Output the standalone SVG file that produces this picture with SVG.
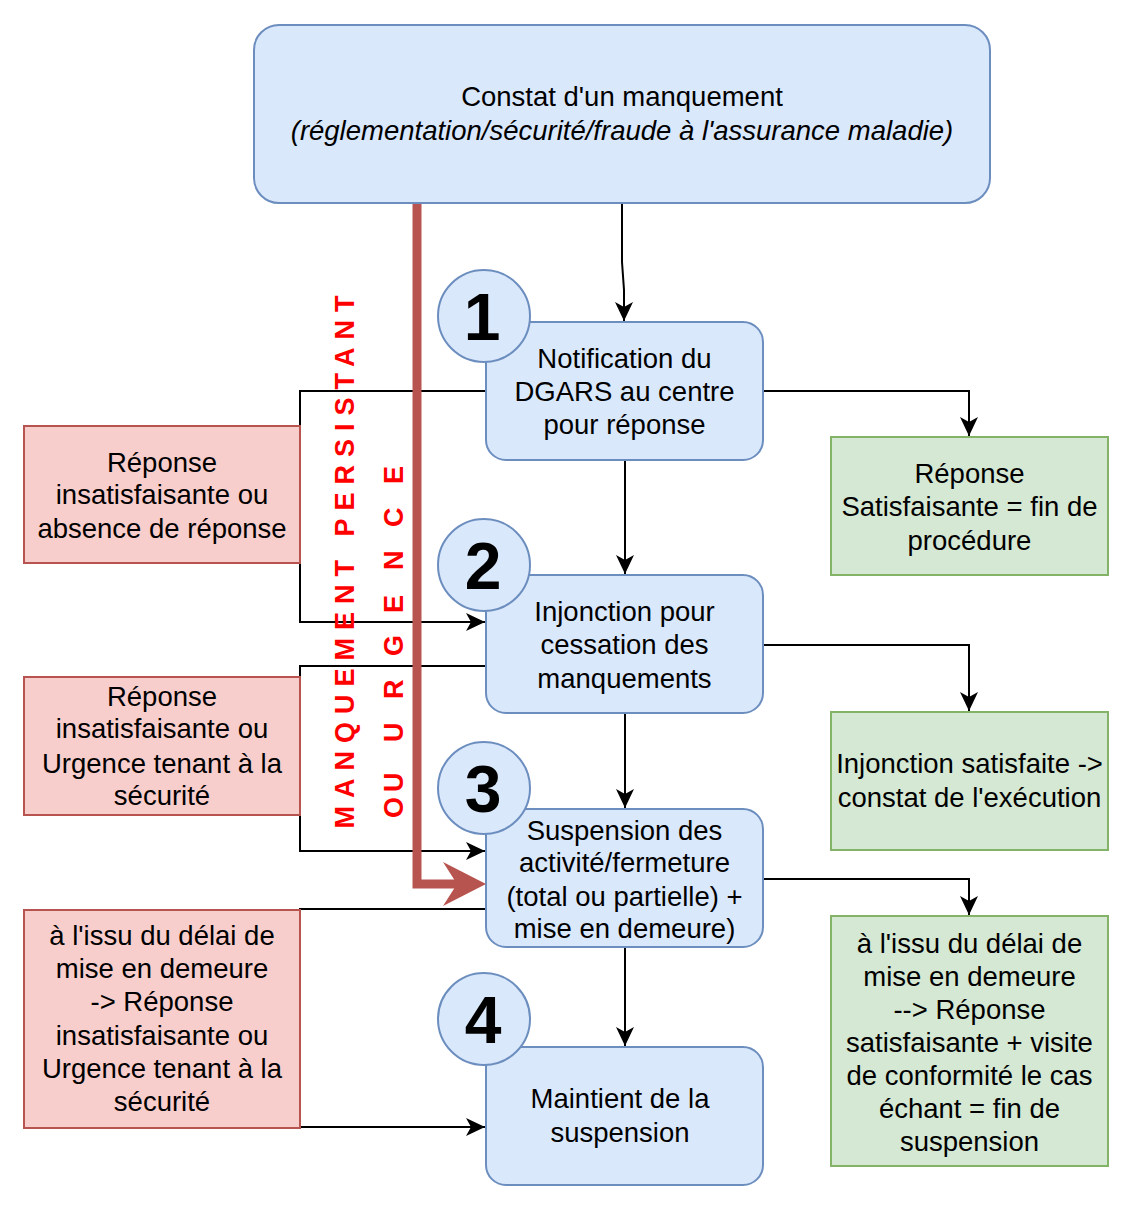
<svg xmlns="http://www.w3.org/2000/svg" width="1134" height="1209" viewBox="0 0 1134 1209">
<defs>
<style>
text{font-family:"Liberation Sans",Arial,sans-serif;font-size:27.5px;fill:#000;text-anchor:middle}
.blue{fill:#dae8fc;stroke:#6c8ebf;stroke-width:2}
.pink{fill:#f8cecc;stroke:#b85450;stroke-width:2}
.green{fill:#d5e8d4;stroke:#82b366;stroke-width:2}
.num{font-size:66px;font-weight:bold}
.conn path{fill:none;stroke:#000;stroke-width:2;marker-end:url(#arr)}
.vt{font-size:27px;font-weight:bold;fill:#ff0000;text-anchor:start}
</style>
<marker id="arr" markerUnits="userSpaceOnUse" markerWidth="22" markerHeight="20" refX="20" refY="10" orient="auto" viewBox="0 0 22 20">
<path d="M1,1 L20,10 L1,19 L6,10 Z" fill="#000" stroke="none"/>
</marker>
</defs>
<rect width="1134" height="1209" fill="#fff"/>

<g id="connectors" class="conn">
<path d="M622,204 V262 L624,290 V321"/>
<path d="M486,391 H300 V622 H485"/>
<path d="M763,391 H969 V436"/>
<path d="M625,460 V574"/>
<path d="M486,666 H300 V851 H485"/>
<path d="M763,645 H969 V711"/>
<path d="M625,713 V808"/>
<path d="M486,909 H300 V1127 H485"/>
<path d="M763,879 H969 V915"/>
<path d="M625,947 V1046"/>
</g>

<g id="constat">
<rect class="blue" x="254" y="25" width="736" height="178" rx="25"/>
<text x="622" y="106">Constat d'un manquement</text>
<text x="622" y="140" font-style="italic">(réglementation/sécurité/fraude à l'assurance maladie)</text>
</g>

<g id="step1">
<rect class="blue" x="486" y="322" width="277" height="138" rx="20"/>
<text x="624.5" y="368">Notification du</text>
<text x="624.5" y="401">DGARS au centre</text>
<text x="624.5" y="434">pour réponse</text>
</g>
<g id="step2">
<rect class="blue" x="486" y="575" width="277" height="138" rx="20"/>
<text x="624.5" y="621">Injonction pour</text>
<text x="624.5" y="654">cessation des</text>
<text x="624.5" y="688">manquements</text>
</g>
<g id="step3">
<rect class="blue" x="486" y="809" width="277" height="138" rx="20"/>
<text x="624.5" y="840">Suspension des</text>
<text x="624.5" y="872">activité/fermeture</text>
<text x="624.5" y="906">(total ou partielle) +</text>
<text x="624.5" y="938">mise en demeure)</text>
</g>
<g id="step4">
<rect class="blue" x="486" y="1047" width="277" height="138" rx="20"/>
<text x="620" y="1108">Maintient de la</text>
<text x="620" y="1142">suspension</text>
</g>

<g id="num1"><circle class="blue" cx="484" cy="316" r="46"/><text class="num" x="482" y="340">1</text></g>
<g id="num2"><circle class="blue" cx="484" cy="565" r="46"/><text class="num" x="483" y="589">2</text></g>
<g id="num3"><circle class="blue" cx="484" cy="788" r="46"/><text class="num" x="483" y="812">3</text></g>
<g id="num4"><circle class="blue" cx="484" cy="1019" r="46"/><text class="num" x="483" y="1043">4</text></g>

<g id="refusA">
<rect class="pink" x="24" y="426" width="276" height="137"/>
<text x="162" y="472">Réponse</text>
<text x="162" y="504">insatisfaisante ou</text>
<text x="162" y="538">absence de réponse</text>
</g>
<g id="refusB">
<rect class="pink" x="24" y="677" width="276" height="138"/>
<text x="162" y="706">Réponse</text>
<text x="162" y="738">insatisfaisante ou</text>
<text x="162" y="773">Urgence tenant à la</text>
<text x="162" y="805">sécurité</text>
</g>
<g id="refusC">
<rect class="pink" x="24" y="910" width="276" height="218"/>
<text x="162" y="945">à l'issu du délai de</text>
<text x="162" y="978">mise en demeure</text>
<text x="162" y="1011">-&gt; Réponse</text>
<text x="162" y="1045">insatisfaisante ou</text>
<text x="162" y="1078">Urgence tenant à la</text>
<text x="162" y="1111">sécurité</text>
</g>

<g id="okA">
<rect class="green" x="831" y="437" width="277" height="138"/>
<text x="969.5" y="483">Réponse</text>
<text x="969.5" y="516">Satisfaisante = fin de</text>
<text x="969.5" y="550">procédure</text>
</g>
<g id="okB">
<rect class="green" x="831" y="712" width="277" height="138"/>
<text x="969.5" y="773">Injonction satisfaite -&gt;</text>
<text x="969.5" y="807">constat de l'exécution</text>
</g>
<g id="okC">
<rect class="green" x="831" y="916" width="277" height="250"/>
<text x="969.5" y="953">à l'issu du délai de</text>
<text x="969.5" y="986">mise en demeure</text>
<text x="969.5" y="1019">--&gt; Réponse</text>
<text x="969.5" y="1052">satisfaisante + visite</text>
<text x="969.5" y="1085">de conformité le cas</text>
<text x="969.5" y="1118">échant = fin de</text>
<text x="969.5" y="1151">suspension</text>
</g>

<g id="urgence-path">
<path d="M417,204 V884 H458" fill="none" stroke="#b85450" stroke-width="9"/>
<polygon points="486,884 443,862 457,884 443,906" fill="#b85450"/>
</g>

<g id="urgence-label">
<text class="vt" transform="translate(353.5,828.5) rotate(-90)" x="0" y="0" letter-spacing="8">MANQUEMENT PERSISTANT</text>
<text class="vt" transform="translate(402.5,818) rotate(-90)" x="0 26 45 76 119 162 205 248 291 334" y="0">OU URGENCE</text>
</g>
</svg>
